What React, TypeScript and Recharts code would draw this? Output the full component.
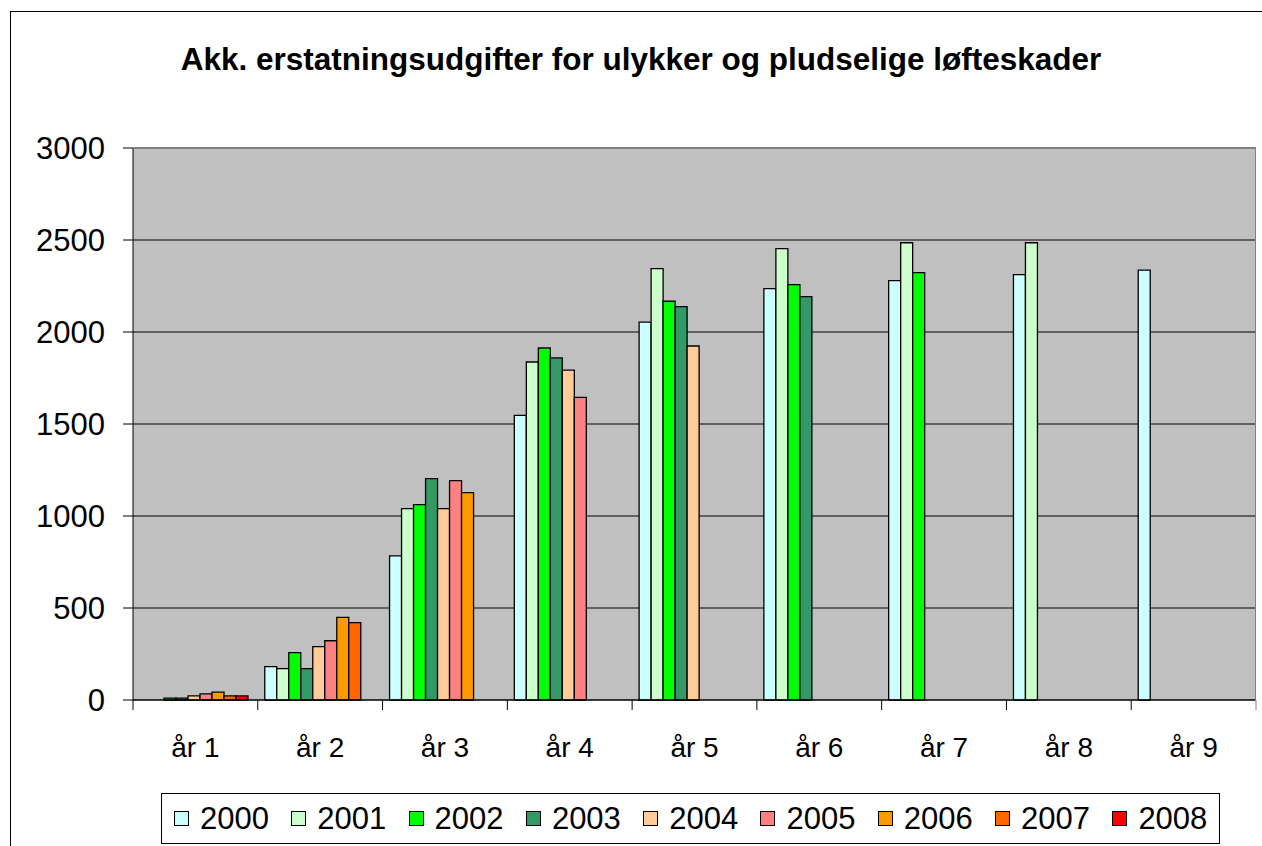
import { BarChart, Bar, XAxis, YAxis, CartesianGrid } from "recharts";

const categories = ["år 1", "år 2", "år 3", "år 4", "år 5", "år 6", "år 7", "år 8", "år 9"];
const yTicks = [0, 500, 1000, 1500, 2000, 2500, 3000];

const s2000 = [null, 181, 783, 1547, 2054, 2236, 2279, 2312, 2336];
const s2001 = [null, 170, 1040, 1837, 2344, 2453, 2485, 2485, null];
const s2002 = [10, 257, 1062, 1913, 2167, 2258, 2323, null, null];
const s2003 = [10, 170, 1203, 1859, 2138, 2192, null, null, null];
const s2004 = [22, 290, 1040, 1793, 1924, null, null, null, null];
const s2005 = [33, 322, 1192, 1645, null, null, null, null, null];
const s2006 = [43, 449, 1127, null, null, null, null, null, null];
const s2007 = [22, 420, null, null, null, null, null, null, null];
const s2008 = [22, null, null, null, null, null, null, null, null];

const series = [
  { key: "2000", values: s2000, color: "#CCFFFF" },
  { key: "2001", values: s2001, color: "#CCFFCC" },
  { key: "2002", values: s2002, color: "#00FF00" },
  { key: "2003", values: s2003, color: "#339966" },
  { key: "2004", values: s2004, color: "#FFCC99" },
  { key: "2005", values: s2005, color: "#FF8080" },
  { key: "2006", values: s2006, color: "#FF9900" },
  { key: "2007", values: s2007, color: "#FF6600" },
  { key: "2008", values: s2008, color: "#FF0000" },
];

const data = categories.map((cat, i) => {
  const row: Record<string, string | number | null> = { cat };
  series.forEach((s) => {
    row[s.key] = s.values[i];
  });
  return row;
});

// layout (pixels)
const W = 1262;
const H = 846;
const PLOT_LEFT = 133;
const PLOT_RIGHT = 1256;
const PLOT_TOP = 148;
const PLOT_BOTTOM = 700;
const BAND = (PLOT_RIGHT - PLOT_LEFT) / categories.length;

const FONT = "'Liberation Sans', Arial, sans-serif";

function XTick(props: any) {
  const { x, payload, index } = props;
  return (
    <g>
      <line x1={x - BAND / 2} x2={x - BAND / 2} y1={PLOT_BOTTOM} y2={PLOT_BOTTOM + 10} stroke="#000" />
      {index === categories.length - 1 && (
        <line x1={x + BAND / 2} x2={x + BAND / 2} y1={PLOT_BOTTOM} y2={PLOT_BOTTOM + 10} stroke="#808080" />
      )}
      <text x={x} y={PLOT_BOTTOM + 57} textAnchor="middle" fontFamily={FONT} fontSize={28} fill="#000">
        {payload.value}
      </text>
    </g>
  );
}

export default function App() {
  return (
    <div style={{ position: "fixed", left: 0, top: 0, width: W, height: H, overflow: "hidden", background: "#fff" }}>
      {/* outer chart border, cut off at right and bottom */}
      <div
        style={{
          position: "absolute",
          left: 10,
          top: 11,
          width: W + 40,
          height: H + 40,
          border: "1px solid #000",
        }}
      />
      <div
        style={{
          position: "absolute",
          left: 0,
          top: 41,
          width: 1282,
          textAlign: "center",
          fontFamily: FONT,
          fontWeight: "bold",
          fontSize: 31.5,
          lineHeight: "36px",
          color: "#000",
          whiteSpace: "nowrap",
        }}
      >
        Akk. erstatningsudgifter for ulykker og pludselige løfteskader
      </div>

      <div style={{ position: "absolute", left: 0, top: 0 }}>
        <BarChart
          width={W}
          height={H}
          data={data}
          margin={{ top: PLOT_TOP, right: W - PLOT_RIGHT, bottom: H - PLOT_BOTTOM - 60, left: 0 }}
          barCategoryGap={7}
          barGap={0}
        >
          <CartesianGrid vertical={false} stroke="#000" fill="#C0C0C0" fillOpacity={1} />
          <XAxis
            dataKey="cat"
            height={60}
            axisLine={{ stroke: "#000" }}
            tickLine={false}
            tick={<XTick />}
            interval={0}
          />
          <YAxis
            width={PLOT_LEFT}
            domain={[0, 3000]}
            ticks={yTicks}
            axisLine={{ stroke: "#000" }}
            tickLine={{ stroke: "#000" }}
            tickSize={10}
            tickMargin={18}
            tick={{ fontFamily: FONT, fontSize: 31, fill: "#000" }}
          />
          {series.map((s) => (
            <Bar
              key={s.key}
              dataKey={s.key}
              fill={s.color}
              stroke="#000"
              strokeWidth={1.3}
              isAnimationActive={false}
            />
          ))}
        </BarChart>
      </div>

      {/* plot area frame */}
      <div
        style={{
          position: "absolute",
          left: PLOT_LEFT,
          top: PLOT_TOP,
          width: PLOT_RIGHT - PLOT_LEFT - 1,
          height: PLOT_BOTTOM - PLOT_TOP,
          borderTop: "1px solid #808080",
          borderRight: "1px solid #808080",
          pointerEvents: "none",
        }}
      />

      {/* legend */}
      <div
        style={{
          position: "absolute",
          left: 161,
          top: 793,
          width: 1059,
          height: 51,
          border: "1px solid #000",
          display: "flex",
          alignItems: "center",
          paddingLeft: 12,
          boxSizing: "border-box",
          fontFamily: FONT,
          fontSize: 31,
          color: "#000",
        }}
      >
        {series.map((s) => (
          <div key={s.key} style={{ display: "flex", alignItems: "center", width: 117.3, flexShrink: 0 }}>
            <span
              style={{
                display: "inline-block",
                width: 13,
                height: 13,
                background: s.color,
                border: "1px solid #000",
                marginRight: 11,
              }}
            />
            <span>{s.key}</span>
          </div>
        ))}
      </div>
    </div>
  );
}
